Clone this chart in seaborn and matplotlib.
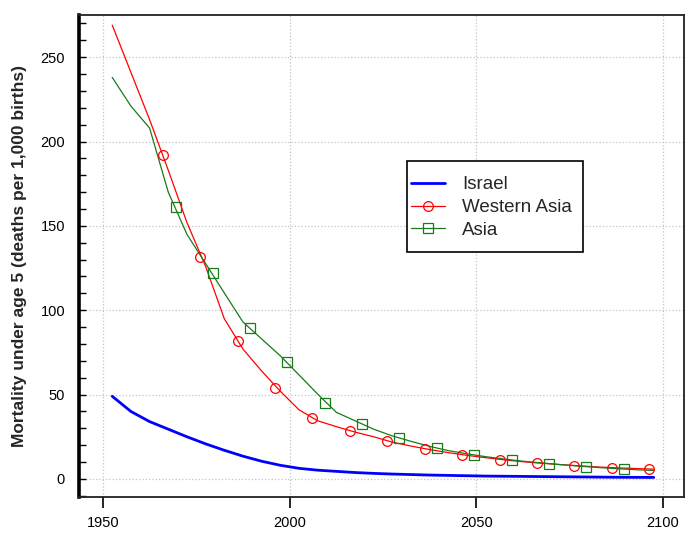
import matplotlib
matplotlib.use("Agg")
import matplotlib.pyplot as plt
import seaborn as sns
from matplotlib.lines import Line2D
from matplotlib.patches import Rectangle

# five-year period midpoints
years = [1952.5, 1957.5, 1962.5, 1967.5, 1972.5, 1977.5, 1982.5, 1987.5, 1992.5, 1997.5,
         2002.5, 2007.5, 2012.5, 2017.5, 2022.5, 2027.5, 2032.5, 2037.5, 2042.5, 2047.5,
         2052.5, 2057.5, 2062.5, 2067.5, 2072.5, 2077.5, 2082.5, 2087.5, 2092.5, 2097.5]

israel = [49, 40, 34, 29.5, 25, 20.8, 17, 13.5, 10.5, 8.1,
          6.3, 5.2, 4.5, 3.8, 3.3, 2.9, 2.6, 2.3, 2.1, 1.9,
          1.7, 1.6, 1.5, 1.4, 1.3, 1.2, 1.1, 1.0, 0.95, 0.9]

western_asia = [269, 241, 213, 183, 152, 126, 95, 77, 64, 52,
                41, 34.5, 31, 27.8, 25, 21.8, 19.5, 17.4, 15.6, 14.0,
                12.6, 11.3, 10.2, 9.3, 8.5, 7.8, 7.1, 6.6, 6.2, 5.8]

asia = [238, 221, 208, 170, 145, 127.7, 110.3, 93, 83, 73,
        61.7, 50.3, 39.5, 34.5, 29.5, 25.5, 22.3, 19.3, 16.8, 14.9,
        13.2, 11.8, 10.5, 9.5, 8.5, 7.6, 6.8, 6.1, 5.5, 5.0]

# symbols are drawn every ten years along each curve
wa_sym_years = [1966.2, 1976.0, 1986.1, 1996.1, 2006.1, 2016.2, 2026.2, 2036.3, 2046.2, 2056.2, 2066.2, 2076.2, 2086.2, 2096.2]
wa_sym_vals = [191.9, 131.3, 81.8, 53.7, 36.0, 28.6, 22.2, 17.8, 14.4, 11.5, 9.5, 7.9, 6.7, 5.9]

asia_sym_years = [1969.5, 1979.4, 1989.4, 1999.4, 2009.5, 2019.5, 2029.4, 2039.4, 2049.4, 2059.5, 2069.5, 2079.4, 2089.4]
asia_sym_vals = [161, 121.8, 89.6, 69.3, 45.2, 32.3, 24.3, 18.4, 14.4, 11.3, 9.1, 7.1, 5.9]

labels = ["Israel", "Western Asia", "Asia"]

sns.set_style("white")
plt.rcParams['font.family'] = ['Liberation Sans', 'DejaVu Sans']

fig = plt.figure(figsize=(6.98, 5.33), dpi=100)
ax = fig.add_axes([79 / 698, 36 / 533, 605 / 698, 482 / 533])

blue = "#0000ff"
red = "#ff0000"
green = "#1a7a1a"

sns.lineplot(x=years, y=israel, color=blue, lw=2.0, ax=ax, sort=False)
sns.lineplot(x=years, y=western_asia, color=red, lw=0.9, ax=ax, sort=False)
sns.lineplot(x=years, y=asia, color=green, lw=0.9, ax=ax, sort=False)
sns.lineplot(x=wa_sym_years, y=wa_sym_vals, ax=ax, linestyle="", marker="o", ms=7,
             markerfacecolor="none", markeredgecolor=red, markeredgewidth=0.9, color=red)
sns.lineplot(x=asia_sym_years, y=asia_sym_vals, ax=ax, linestyle="", marker="s", ms=7,
             markerfacecolor="none", markeredgecolor=green, markeredgewidth=0.9, color=green)

ax.set_xlim(1943.6, 2105.6)
ax.set_ylim(-10.7, 275)
ax.set_xticks([1950, 2000, 2050, 2100])
ax.set_yticks([0, 50, 100, 150, 200, 250])
ax.set_yticks(list(range(-10, 271, 10)), minor=True)

ax.grid(True, which="major", ls=":", color="#c4c4c4", lw=0.9)
ax.tick_params(axis="x", direction="out", length=8, width=1.2, pad=6, labelsize=10.5,
               bottom=True, colors="black")
ax.tick_params(axis="y", which="major", direction="in", length=5, width=1, pad=10,
               labelsize=10.5, left=True, colors="black")
ax.tick_params(axis="y", which="minor", direction="in", length=5, width=1, left=True,
               colors="black")

for name, sp in ax.spines.items():
    sp.set_visible(True)
    sp.set_color("#222222")
    sp.set_linewidth(1.3)
ax.spines["left"].set_linewidth(2.6)
ax.spines["left"].set_color("black")

ax.set_xlabel("")
ax.set_ylabel("Mortality under age 5 (deaths per 1,000 births)", fontsize=12.5,
              fontweight="bold", labelpad=10)

# legend
handles = [Line2D([], [], color=blue, lw=2.0),
           Line2D([], [], color=red, lw=0.9, marker="o", ms=7, mfc="none", mew=0.9),
           Line2D([], [], color=green, lw=0.9, marker="s", ms=7, mfc="none", mew=0.9)]
ax.legend(handles, labels, loc="center left", bbox_to_anchor=(0.549, 0.6006),
          frameon=False, fontsize=13.5, handlelength=1.8, handletextpad=0.9,
          labelspacing=0.3, borderpad=0, borderaxespad=0)
ax.add_patch(Rectangle((0.5417, 0.5089), 0.8326 - 0.5417, 0.6971 - 0.5089,
                       transform=ax.transAxes, fill=True, facecolor="white",
                       edgecolor="black", lw=1.2, zorder=4))
ax.get_legend().set_zorder(5)

# title sits above the top edge of the image, only descenders show
fig.text(207 / 698, (533 + 2.5) / 533, "Mortality under age 5", fontsize=11,
         fontweight="bold", va="baseline", ha="left")

fig.savefig("out.png", dpi=100)
